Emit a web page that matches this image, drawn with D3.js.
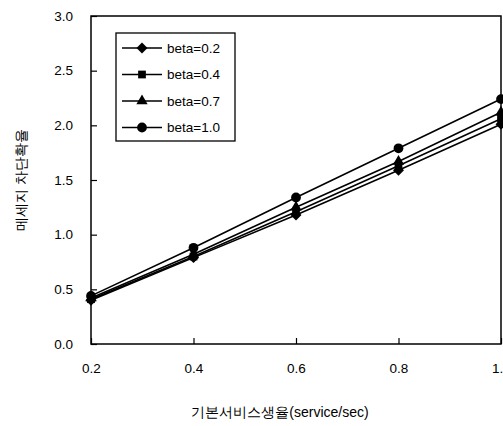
<!DOCTYPE html>
<html><head><meta charset="utf-8">
<script src="https://cdn.jsdelivr.net/npm/d3@7"></script>
<style>body{margin:0;background:#fff;} svg{display:block;}</style>
</head><body>
<script>
const xValues = [0.2, 0.4, 0.6, 0.8, 1.0];
const seriesNames = ["beta=0.2", "beta=0.4", "beta=0.7", "beta=1.0"];
const beta02 = [0.40, 0.79, 1.18, 1.59, 2.01];
const beta04 = [0.41, 0.80, 1.21, 1.63, 2.06];
const beta07 = [0.42, 0.82, 1.25, 1.67, 2.12];
const beta10 = [0.44, 0.88, 1.34, 1.79, 2.24];
const yTicks = [0.0, 0.5, 1.0, 1.5, 2.0, 2.5, 3.0];
const xTicks = [0.2, 0.4, 0.6, 0.8, 1.0];
const yTitle = "메세지 차단확율";
const xTitle = "기본서비스생율(service/sec)";

const series = [beta02, beta04, beta07, beta10];
const diamond = {draw(ctx, size) { const r = Math.sqrt(size / 2); ctx.moveTo(0, -r); ctx.lineTo(r, 0); ctx.lineTo(0, r); ctx.lineTo(-r, 0); ctx.closePath(); }};
const symbols = [diamond, d3.symbolSquare, d3.symbolTriangle, d3.symbolCircle];
const symSizes = [60, 60, 55, 75];

const W = 503, H = 426;
const m = {left: 91, right: 2, top: 16, bottom: 82};
const svg = d3.select("body").append("svg").attr("width", W).attr("height", H);
const font = "'Liberation Sans', Arial, sans-serif";

const x = d3.scaleLinear().domain([0.2, 1.0]).range([m.left, W - m.right]);
const y = d3.scaleLinear().domain([0, 3]).range([H - m.bottom, m.top]);

svg.append("rect").attr("x", x(0.2)).attr("y", y(3)).attr("width", x(1.0) - x(0.2)).attr("height", y(0) - y(3))
  .attr("fill", "none").attr("stroke", "#000").attr("stroke-width", 1.5);

const xAxis = svg.append("g").attr("transform", `translate(0,${y(0)})`)
  .call(d3.axisBottom(x).tickValues(xTicks).tickFormat(d3.format(".1f")).tickSizeInner(-6).tickSizeOuter(0).tickPadding(19));
const yAxis = svg.append("g").attr("transform", `translate(${x(0.2)},0)`)
  .call(d3.axisLeft(y).tickValues(yTicks).tickFormat(d3.format(".1f")).tickSizeInner(-6).tickSizeOuter(0).tickPadding(18));
[xAxis, yAxis].forEach(g => {
  g.select(".domain").remove();
  g.selectAll("line").attr("stroke", "#000").attr("stroke-width", 1.2);
  g.selectAll("text").attr("font-family", font).attr("font-size", 13.5).attr("fill", "#000");
});

const line = d3.line().x((d, i) => x(xValues[i])).y(d => y(d));
series.forEach((s, k) => {
  svg.append("path").datum(s).attr("d", line).attr("fill", "none").attr("stroke", "#000").attr("stroke-width", 1.6);
  svg.selectAll(null).data(s).enter().append("path")
    .attr("transform", (d, i) => `translate(${x(xValues[i])},${y(d)})`)
    .attr("d", d3.symbol().type(symbols[k]).size(symSizes[k])).attr("fill", "#000");
});

const lg = svg.append("g");
lg.append("rect").attr("x", 116).attr("y", 33).attr("width", 119).attr("height", 108)
  .attr("fill", "#fff").attr("stroke", "#000").attr("stroke-width", 1.3);
seriesNames.forEach((n, k) => {
  const yy = 48 + k * 26.5;
  lg.append("line").attr("x1", 122).attr("x2", 162).attr("y1", yy).attr("y2", yy).attr("stroke", "#000").attr("stroke-width", 1.6);
  lg.append("path").attr("transform", `translate(142,${yy})`).attr("d", d3.symbol().type(symbols[k]).size(symSizes[k])).attr("fill", "#000");
  lg.append("text").attr("x", 167).attr("y", yy + 4.5).attr("font-family", font).attr("font-size", 13.5).text(n);
});

svg.append("text").attr("transform", `translate(26,${(y(0) + y(3)) / 2}) rotate(-90)`).attr("text-anchor", "middle")
  .attr("font-family", font).attr("font-size", 14).attr("font-weight", 500).text(yTitle);
svg.append("text").attr("x", 280).attr("y", 417).attr("text-anchor", "middle")
  .attr("font-family", font).attr("font-size", 14).attr("font-weight", 500).text(xTitle);
</script>
</body></html>
